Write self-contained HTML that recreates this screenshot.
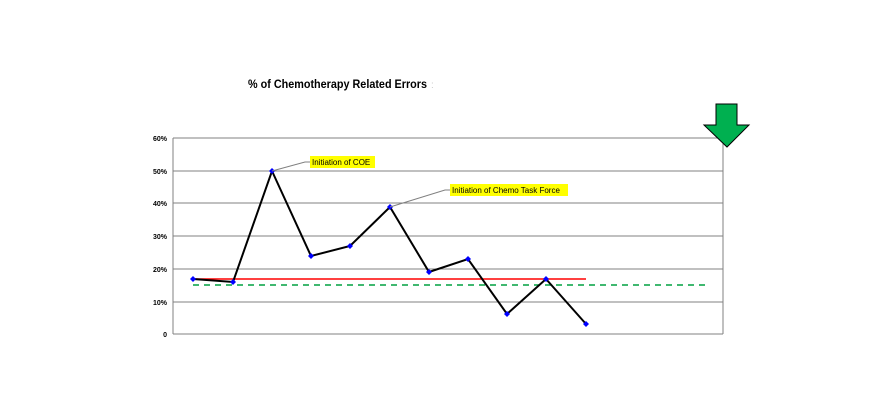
<!DOCTYPE html>
<html><head><style>body{margin:0;background:#fff;}svg{display:block}</style></head><body>
<svg width="882" height="412" xmlns="http://www.w3.org/2000/svg" font-family="Liberation Sans, Arial, sans-serif">
<text x="248" y="88" font-size="12" font-weight="bold" fill="#000" textLength="179" lengthAdjust="spacingAndGlyphs">% of Chemotherapy Related Errors</text>
<text x="431" y="88" font-size="10" fill="#ccc">:</text>
<g stroke="#808080" stroke-width="1">
<line x1="173" y1="138" x2="723" y2="138"/>
<line x1="173" y1="171" x2="723" y2="171"/>
<line x1="173" y1="203" x2="723" y2="203"/>
<line x1="173" y1="236" x2="723" y2="236"/>
<line x1="173" y1="269" x2="723" y2="269"/>
<line x1="173" y1="302" x2="723" y2="302"/>
<line x1="173" y1="334" x2="723" y2="334"/>
<line x1="173" y1="138" x2="173" y2="334"/>
<line x1="723" y1="138" x2="723" y2="334"/>
</g>
<g font-size="7" font-weight="bold" text-anchor="end" fill="#000">
<text x="167" y="141">60%</text><text x="167" y="174">50%</text><text x="167" y="206">40%</text>
<text x="167" y="239">30%</text><text x="167" y="272">20%</text><text x="167" y="305">10%</text><text x="167" y="337">0</text>
</g>
<line x1="193" y1="279" x2="586" y2="279" stroke="#ff0000" stroke-width="1.5"/>
<line x1="193" y1="285" x2="705" y2="285" stroke="#00a040" stroke-width="1.5" stroke-dasharray="6,5"/>
<polyline fill="none" stroke="#000" stroke-width="2" points="193,279 233,282 272,171 311,256 350,246 390,207 429,272 468,259 507,314 546,279 586,324"/>
<g fill="#0000ff">
<path d="M193,276l3,3l-3,3l-3,-3z"/><path d="M233,279l3,3l-3,3l-3,-3z"/><path d="M272,168l3,3l-3,3l-3,-3z"/>
<path d="M311,253l3,3l-3,3l-3,-3z"/><path d="M350,243l3,3l-3,3l-3,-3z"/><path d="M390,204l3,3l-3,3l-3,-3z"/>
<path d="M429,269l3,3l-3,3l-3,-3z"/><path d="M468,256l3,3l-3,3l-3,-3z"/><path d="M507,311l3,3l-3,3l-3,-3z"/>
<path d="M546,276l3,3l-3,3l-3,-3z"/><path d="M586,321l3,3l-3,3l-3,-3z"/>
</g>
<polyline fill="none" stroke="#808080" stroke-width="1" points="272,171 305,162 310,162"/>
<rect x="310" y="156" width="65" height="12" fill="#ffff00"/>
<text x="312" y="165" font-size="8" fill="#000">Initiation of COE</text>
<polyline fill="none" stroke="#808080" stroke-width="1" points="390,207 445,190 450,190"/>
<rect x="450" y="184" width="118" height="12" fill="#ffff00"/>
<text x="452" y="193" font-size="8" fill="#000">Initiation of Chemo Task Force</text>
<polygon points="716,104 737,104 737,125 749,125 727,147 704,125 716,125" fill="#00b050" stroke="#000" stroke-width="1"/>
</svg>
</body></html>
